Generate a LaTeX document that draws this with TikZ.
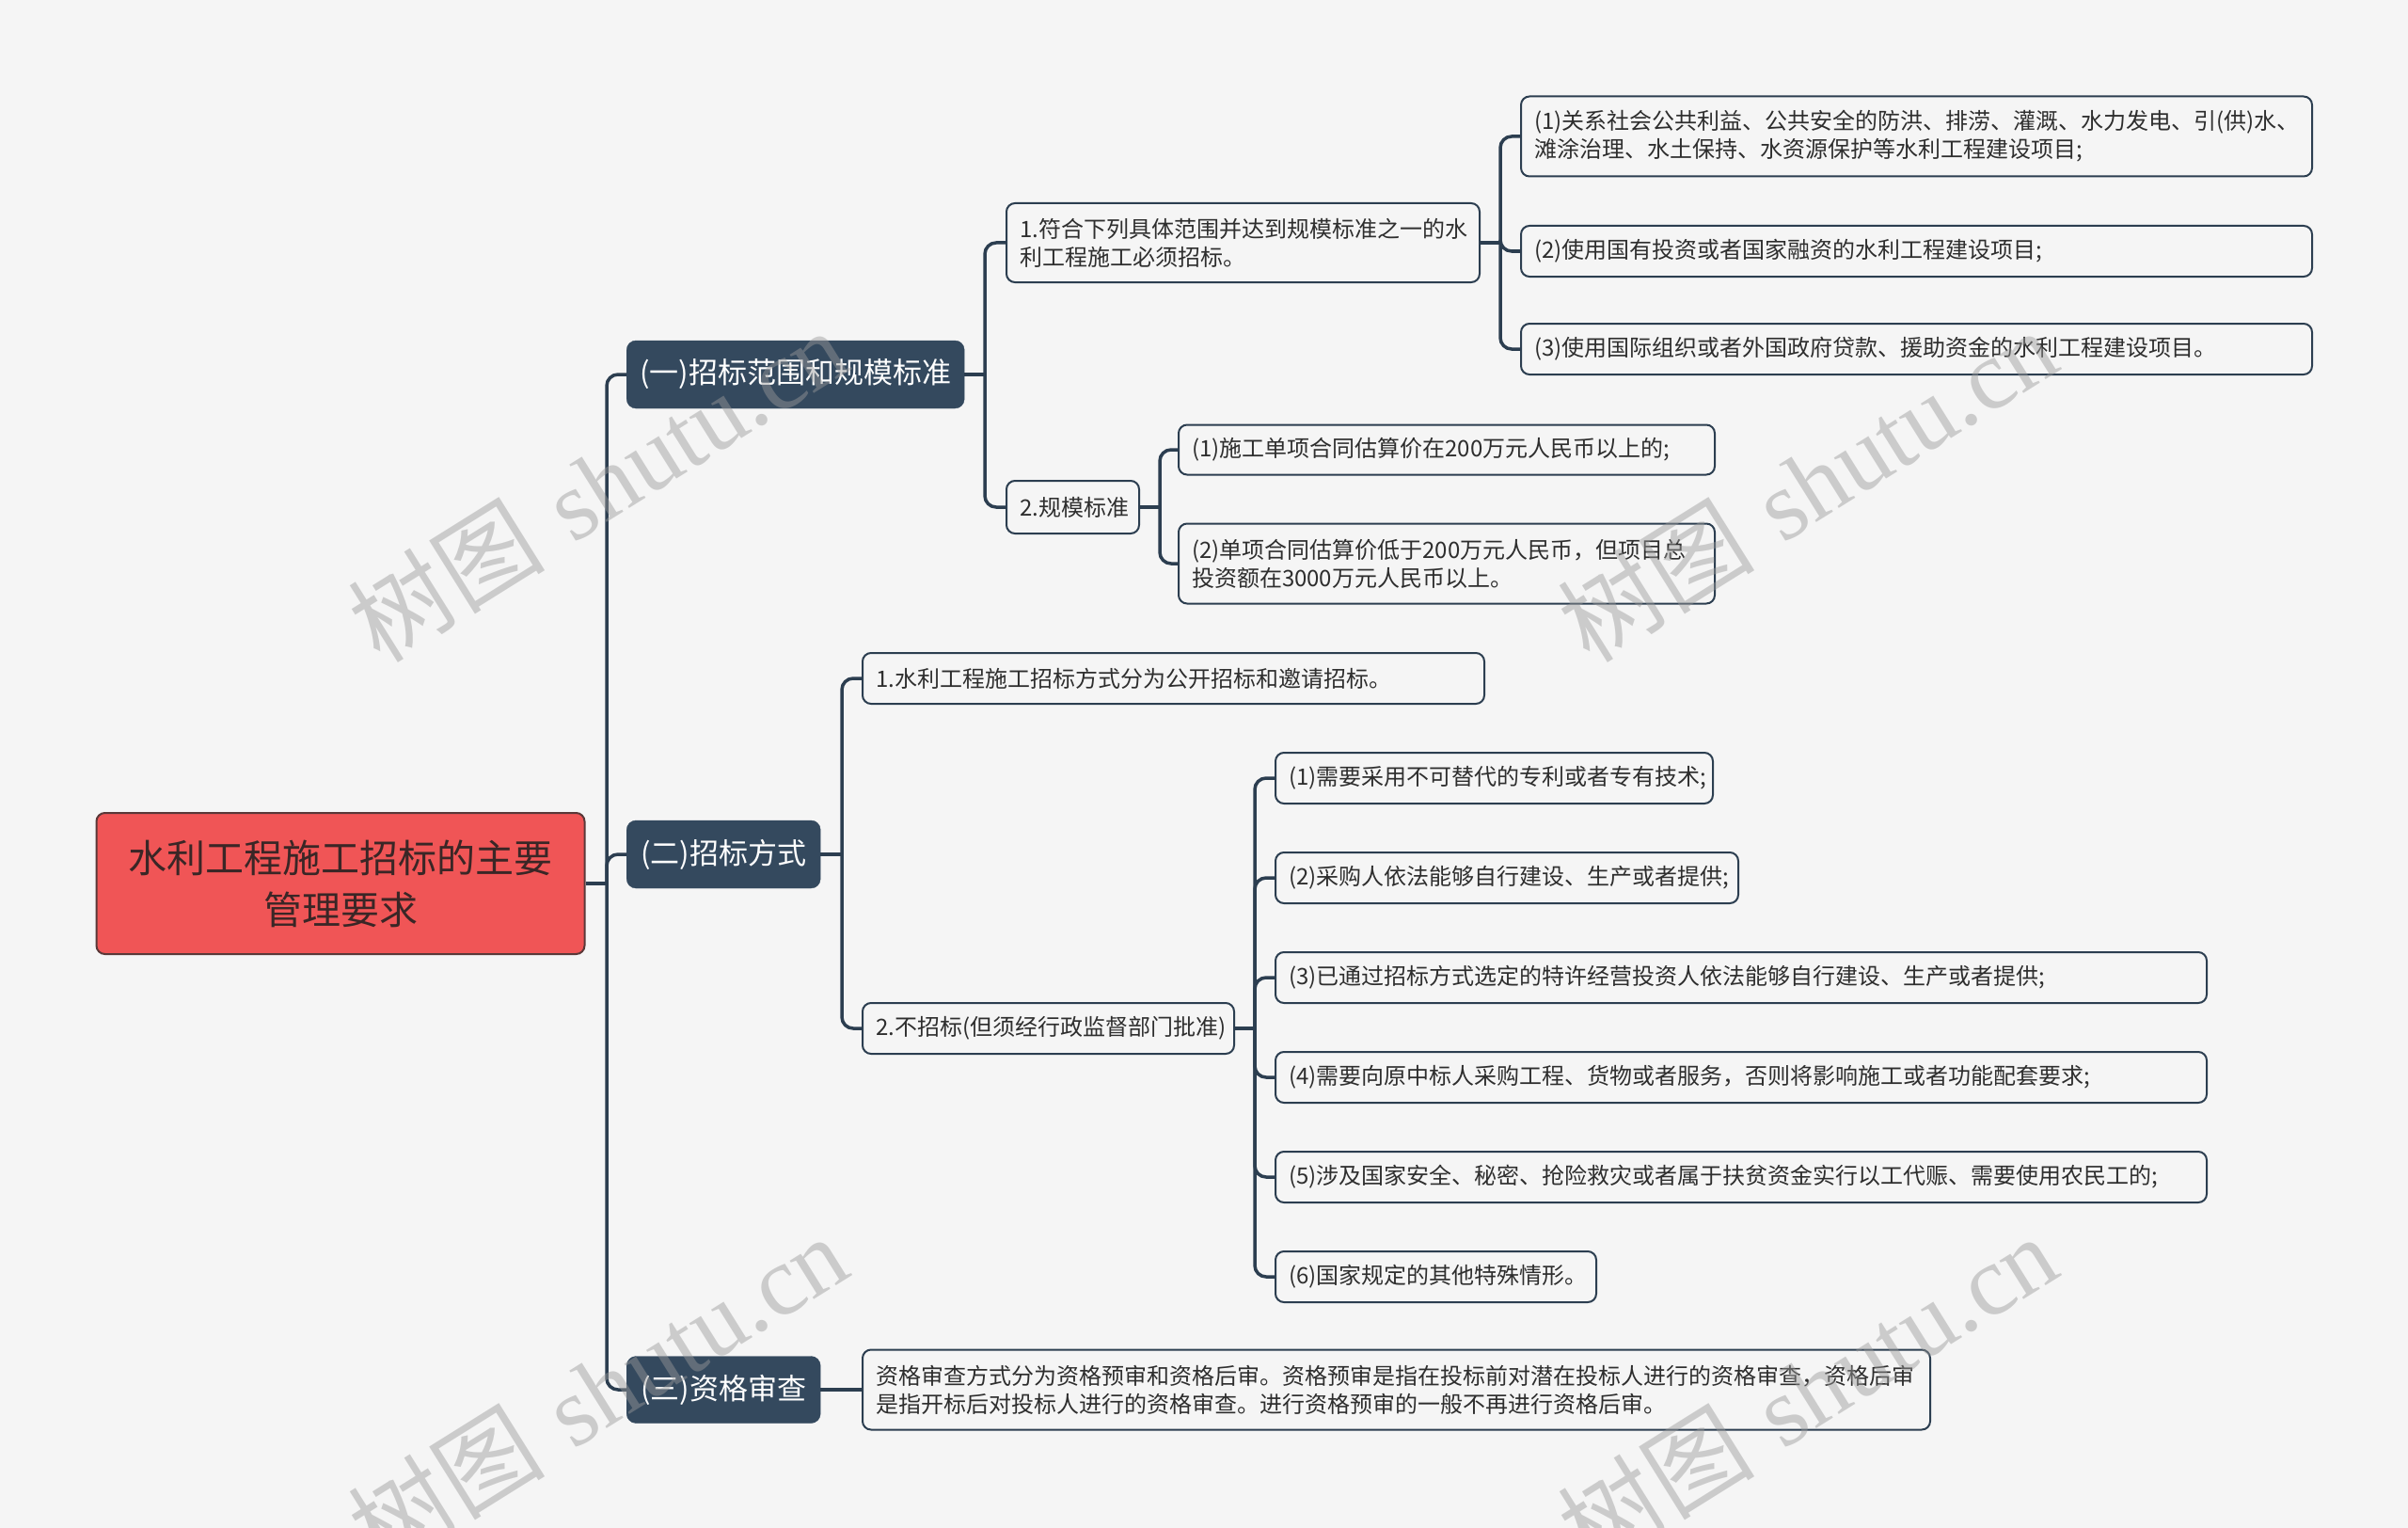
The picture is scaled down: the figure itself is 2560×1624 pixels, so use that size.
\documentclass[tikz,border=0pt]{standalone}
\usepackage{fontspec}
\newfontfamily\cjk{Noto Sans CJK SC}
\newfontfamily\wmserif{Liberation Serif}
\usetikzlibrary{calc}
\definecolor{bg}{HTML}{F5F5F5}
\definecolor{linec}{HTML}{2C3E50}
\definecolor{darkbox}{HTML}{34495E}
\definecolor{rootred}{HTML}{F05556}
\definecolor{rootedge}{HTML}{5A3838}
\definecolor{roottext}{HTML}{3A2626}
\definecolor{leaftext}{HTML}{2E2E2E}
\definecolor{wm}{HTML}{9A9A9A}
\begin{document}
\begin{tikzpicture}[x=1pt,y=-1pt,
  conn/.style={draw=linec, line width=3.5pt, rounded corners=12pt},
  rootbox/.style={draw=rootedge, fill=rootred, line width=2pt, rounded corners=9pt, text=roottext,
    font=\cjk\fontsize{41}{55}\selectfont, align=center, minimum width=519pt, minimum height=150pt, inner sep=0pt},
  topic/.style={fill=darkbox, draw=darkbox, rounded corners=10pt, text=white,
    font=\cjk\fontsize{31}{36}\selectfont, minimum height=72pt, inner sep=0pt, anchor=west, align=center},
  leaf/.style={draw=linec, fill=bg, line width=2pt, rounded corners=9pt, text=leaftext,
    font=\cjk\fontsize{24}{30}\selectfont, inner xsep=14pt, inner ysep=0pt, anchor=west, align=left, minimum height=54pt},
  wmark/.style={text=wm, opacity=0.45, rotate=32, font=\fontsize{105}{110}\selectfont}
]
\fill[bg] (0,0) rectangle (2560,1624);
\useasboundingbox (0,0) rectangle (2560,1624);

% root
\node[rootbox] (root) at (362,939) {水利工程施工招标的主要\\管理要求};

% level 1
\node[topic, minimum width=359pt] (ta) at (666,398) {(一)招标范围和规模标准};
\node[topic, minimum width=206pt] (tb) at (666,908) {(二)招标方式};
\node[topic, minimum width=206pt, minimum height=71pt] (tc) at (666,1477) {(三)资格审查};

% branch a
\node[leaf, text width=475pt, minimum height=84pt] (a1) at (1069,258) {1.符合下列具体范围并达到规模标准之一的水\\利工程施工必须招标。};
\node[leaf, text width=113pt, minimum height=56pt] (a2) at (1069,539) {2.规模标准};
\node[leaf, text width=813pt, minimum height=85pt] (a11) at (1616,145) {(1)关系社会公共利益、公共安全的防洪、排涝、灌溉、水力发电、引(供)水、\\滩涂治理、水土保持、水资源保护等水利工程建设项目;};
\node[leaf, text width=813pt] (a12) at (1616,267) {(2)使用国有投资或者国家融资的水利工程建设项目;};
\node[leaf, text width=813pt] (a13) at (1616,371) {(3)使用国际组织或者外国政府贷款、援助资金的水利工程建设项目。};
\node[leaf, text width=542pt, minimum height=53pt] (a21) at (1252,478) {(1)施工单项合同估算价在200万元人民币以上的;};
\node[leaf, text width=542pt, minimum height=85pt] (a22) at (1252,599) {(2)单项合同估算价低于200万元人民币，但项目总\\投资额在3000万元人民币以上。};

% branch b
\node[leaf, text width=633pt] (b1) at (916,721) {1.水利工程施工招标方式分为公开招标和邀请招标。};
\node[leaf, text width=367pt] (b2) at (916,1093) {2.不招标(但须经行政监督部门批准)};
\node[leaf, text width=437pt] (b21) at (1355,827) {(1)需要采用不可替代的专利或者专有技术;};
\node[leaf, text width=464pt] (b22) at (1355,933) {(2)采购人依法能够自行建设、生产或者提供;};
\node[leaf, text width=962pt] (b23) at (1355,1039) {(3)已通过招标方式选定的特许经营投资人依法能够自行建设、生产或者提供;};
\node[leaf, text width=962pt] (b24) at (1355,1145) {(4)需要向原中标人采购工程、货物或者服务，否则将影响施工或者功能配套要求;};
\node[leaf, text width=962pt] (b25) at (1355,1251) {(5)涉及国家安全、秘密、抢险救灾或者属于扶贫资金实行以工代赈、需要使用农民工的;};
\node[leaf, text width=313pt] (b26) at (1355,1357) {(6)国家规定的其他特殊情形。};

% branch c
\node[leaf, text width=1107pt, minimum height=85pt] (c1) at (916,1477) {资格审查方式分为资格预审和资格后审。资格预审是指在投标前对潜在投标人进行的资格审查，资格后审\\是指开标后对投标人进行的资格审查。进行资格预审的一般不再进行资格后审。};

% junction coordinates
\coordinate (jr) at (645,939);
\coordinate (ja) at (1047,398);
\coordinate (ja1) at (1595,258);
\coordinate (ja2) at (1233,539);
\coordinate (jb) at (895,908);
\coordinate (jb2) at (1334,1093);

% connectors
\draw[conn] (root.east) -- (jr);
\foreach \t in {ta,tb,tc} \draw[conn] (jr) |- (\t.west);
\draw[conn] (ta.east) -- (ja);
\foreach \t in {a1,a2} \draw[conn] (ja) |- (\t.west);
\draw[conn] (a1.east) -- (ja1);
\foreach \t in {a11,a12,a13} \draw[conn] (ja1) |- (\t.west);
\draw[conn] (a2.east) -- (ja2);
\foreach \t in {a21,a22} \draw[conn] (ja2) |- (\t.west);
\draw[conn] (tb.east) -- (jb);
\foreach \t in {b1,b2} \draw[conn] (jb) |- (\t.west);
\draw[conn] (b2.east) -- (jb2);
\foreach \t in {b21,b22,b23,b24,b25,b26} \draw[conn] (jb2) |- (\t.west);
\draw[conn] (tc.east) -- (c1.west);

% watermarks
\node[wmark] (w1) at (635,515) {{\cjk 树图} {\wmserif shutu.cn}};
\node[wmark] (w2) at (1921,515) {{\cjk 树图} {\wmserif shutu.cn}};
\node[wmark] (w3) at (635,1478) {{\cjk 树图} {\wmserif shutu.cn}};
\node[wmark] (w4) at (1921,1478) {{\cjk 树图} {\wmserif shutu.cn}};
\end{tikzpicture}
\end{document}
